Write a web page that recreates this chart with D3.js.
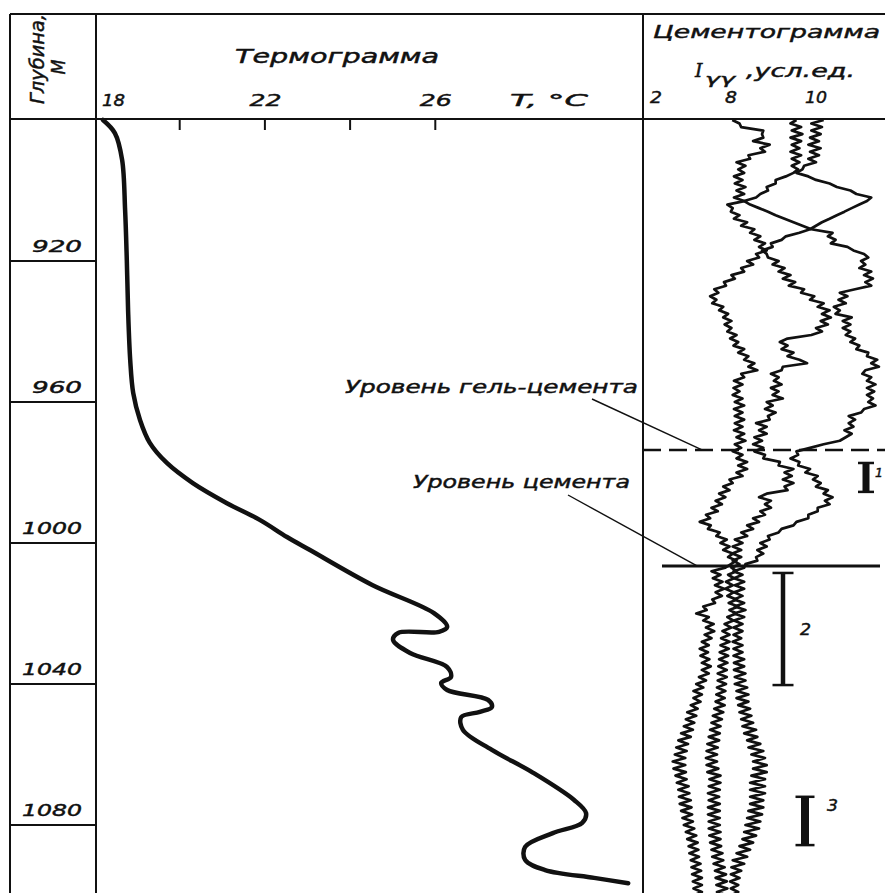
<!DOCTYPE html>
<html>
<head>
  <meta charset="utf-8">
  <script src="https://d3js.org/d3.v7.min.js"></script>
  <title>Термограмма и цементограмма</title>
</head>
<style>
html, body {
  margin: 0;
  background: white;
}
svg {
  display: block;
  background: white;
}
text {
  font-family: 'DejaVu Sans', sans-serif;
  font-style: italic;
  fill: #111;
  stroke: #111;
  stroke-width: 0.45px;
}
</style>
<body>
<script>
// Глубина, м — подписанные отметки
var depthTicks = [920, 960, 1000, 1040, 1080];

// Термограмма: глубина (м) и температура (°C) в узлах кривой
var tempTicks = [20, 22, 24, 26];
var tempLabels = [18, 22, 26];
var thermoDepth = [880, 883.7, 891.3, 905.5, 919.7, 933.9, 948.1, 957.4, 965.1, 971.6,
  977.3, 983.0, 988.7, 993.5, 998.3, 1002.0, 1011.9, 1019.9, 1023.8, 1025.2,
  1025.5, 1027.5, 1031.2, 1035.2, 1038.0, 1039.7, 1041.7, 1044.5, 1046.5, 1047.9,
  1049.4, 1053.0, 1058.7, 1065.2, 1072.9, 1076.6, 1079.4, 1082.3, 1086.2, 1089.9,
  1092.8, 1095.0, 1096.5];
var thermoTemp = [18.21, 18.49, 18.66, 18.73, 18.77, 18.80, 18.85, 18.92, 19.08, 19.31,
  19.71, 20.32, 21.12, 21.90, 22.53, 23.07, 24.53, 25.98, 26.29, 26.10,
  25.14, 25.02, 25.42, 26.29, 26.38, 26.15, 26.29, 27.25, 27.34, 27.06,
  26.62, 26.66, 27.34, 28.31, 29.27, 29.55, 29.46, 28.77, 28.12, 28.12,
  28.59, 29.74, 30.54];

// Цементограмма I_γγ, усл.ед. — отсчёты через 1 м начиная с 880 м
var cemTicks = [2, 8, 10];
var cemStartDepth = 880;
var cemCurve1 = [
  8.03, 8.20, 8.24, 8.76, 8.73, 8.76, 8.52, 8.91, 8.69, 8.80,
  8.41, 8.45, 8.13, 8.34, 8.17, 8.31, 8.07, 8.27, 8.09, 8.34,
  8.13, 8.31, 8.07, 8.31, 7.71, 8.04, 7.99, 8.20, 8.07, 8.38,
  8.24, 8.55, 8.45, 8.69, 8.55, 8.80, 8.66, 8.84, 8.59, 8.66,
  8.38, 8.52, 8.24, 8.31, 8.01, 8.09, 7.44, 7.60, 6.66, 6.99,
  6.33, 6.83, 6.50, 7.38, 7.05, 7.77, 7.38, 8.01, 7.49, 8.01,
  7.71, 8.13, 7.93, 8.17, 8.06, 8.31, 8.17, 8.41, 8.31, 8.55,
  8.41, 8.62, 8.24, 8.31, 8.07, 8.27, 8.06, 8.20, 8.04, 8.27,
  8.09, 8.31, 8.07, 8.27, 8.09, 8.31, 8.09, 8.27, 8.07, 8.31,
  8.13, 8.34, 8.09, 8.24, 8.04, 8.27, 8.13, 8.38, 8.17, 8.38,
  8.13, 8.27, 7.88, 8.04, 7.38, 7.88, 7.05, 7.55, 6.77, 7.27,
  6.44, 6.94, 6.00, 6.33, 5.50, 6.38, 6.16, 7.10, 6.83, 7.66,
  7.16, 7.88, 7.38, 8.04, 7.77, 8.13, 7.99, 7.55, 6.44, 7.16,
  6.55, 7.32, 6.72, 7.44, 6.77, 7.27, 6.50, 6.72, 5.78, 6.05,
  5.22, 6.22, 5.78, 6.61, 6.00, 6.66, 5.89, 6.44, 5.67, 6.22,
  5.50, 6.16, 5.56, 6.27, 5.67, 6.38, 5.67, 6.22, 5.44, 6.00,
  5.22, 5.78, 5.00, 5.67, 5.00, 5.56, 4.78, 5.33, 4.50, 5.22,
  4.39, 5.06, 4.23, 4.95, 4.01, 4.78, 3.79, 4.56, 3.62, 4.45,
  3.51, 4.34, 3.34, 4.34, 3.40, 4.39, 3.56, 4.45, 3.67, 4.61,
  3.79, 4.67, 3.84, 4.78, 3.90, 4.84, 4.01, 4.89, 4.12, 4.95,
  4.23, 5.06, 4.39, 5.22, 4.50, 5.33, 4.61, 5.39, 4.67, 5.44,
  4.78, 5.56, 4.84, 5.61, 4.89, 5.67, 4.95, 5.67, 5.00, 5.67,
  5.00];
var cemCurve2 = [
  9.54, 9.40, 9.65, 9.43, 9.68, 9.40, 9.65, 9.43, 9.61, 9.40,
  9.65, 9.43, 9.61, 9.43, 9.58, 9.47, 9.29, 9.05, 9.05, 8.84,
  8.87, 8.69, 8.59, 8.31, 8.45, 8.66, 8.87, 9.05, 9.26, 9.47,
  9.68, 9.89, 10.39, 10.28, 10.46, 10.35, 10.74, 10.88, 11.13, 11.23,
  11.06, 11.16, 11.02, 11.30, 11.13, 11.34, 11.16, 11.30, 10.92, 10.56,
  10.74, 10.53, 10.70, 10.42, 10.56, 10.46, 10.84, 10.63, 10.81, 10.63,
  10.81, 10.70, 10.92, 10.81, 11.02, 10.95, 11.23, 11.20, 11.44, 11.30,
  11.48, 11.16, 11.09, 11.30, 11.20, 11.40, 11.20, 11.37, 11.20, 11.34,
  11.23, 11.40, 11.13, 11.06, 10.77, 10.92, 10.77, 10.88, 10.67, 10.84,
  10.70, 10.56, 10.18, 9.86, 9.54, 9.58, 9.40, 9.61, 9.58, 9.86,
  9.75, 10.04, 9.93, 10.11, 10.00, 10.28, 10.18, 10.39, 10.21, 10.32,
  10.04, 10.04, 9.82, 9.82, 9.54, 9.47, 9.19, 9.12, 8.87, 8.91,
  8.69, 8.84, 8.62, 8.76, 8.59, 8.62, 8.34, 8.31, 8.06, 8.27,
  8.07, 8.31, 8.09, 8.31, 8.07, 8.27, 8.07, 8.31, 8.09, 8.34,
  8.07, 8.31, 8.07, 8.27, 8.06, 8.27, 8.06, 8.24, 8.04, 8.27,
  8.06, 8.27, 8.06, 8.31, 8.07, 8.31, 8.07, 8.34, 8.09, 8.34,
  8.09, 8.38, 8.13, 8.41, 8.13, 8.41, 8.17, 8.45, 8.20, 8.48,
  8.24, 8.52, 8.27, 8.59, 8.31, 8.62, 8.38, 8.69, 8.41, 8.76,
  8.48, 8.80, 8.52, 8.84, 8.52, 8.84, 8.48, 8.80, 8.45, 8.80,
  8.45, 8.80, 8.45, 8.76, 8.45, 8.76, 8.41, 8.73, 8.38, 8.69,
  8.34, 8.66, 8.31, 8.59, 8.27, 8.52, 8.20, 8.45, 8.13, 8.38,
  8.04, 8.31, 8.01, 8.24, 7.99, 8.20, 7.93, 8.17, 7.99, 8.17,
  7.99];
var cemCurve3 = [
  10.18, 9.89, 10.14, 9.89, 10.11, 9.86, 10.07, 9.82, 10.11, 9.86,
  10.07, 9.82, 10.00, 9.72, 9.68, 9.54, 9.82, 10.00, 10.32, 10.49,
  10.81, 10.95, 11.30, 11.20, 11.02, 10.84, 10.67, 10.49, 10.32, 10.14,
  10.00, 9.86, 9.61, 9.29, 9.19, 8.94, 8.98, 8.73, 8.84, 8.87,
  9.12, 8.98, 9.26, 9.12, 9.40, 9.22, 9.51, 9.36, 9.72, 9.65,
  9.96, 9.86, 10.18, 10.04, 10.32, 10.14, 10.35, 10.11, 10.28, 10.00,
  10.14, 9.89, 9.33, 9.15, 9.33, 9.19, 9.47, 9.33, 9.61, 9.79,
  9.22, 9.19, 8.94, 9.12, 9.01, 9.19, 8.94, 9.12, 8.98, 9.22,
  8.84, 8.98, 8.80, 9.05, 8.87, 8.91, 8.59, 8.84, 8.66, 8.84,
  8.55, 8.73, 8.52, 8.76, 8.55, 8.80, 8.76, 9.15, 9.12, 9.47,
  9.26, 9.43, 9.22, 9.47, 9.26, 9.33, 8.84, 8.66, 8.94, 8.80,
  8.94, 8.69, 8.80, 8.52, 8.66, 8.38, 8.52, 8.24, 8.38, 8.09,
  8.27, 8.04, 8.24, 8.03, 8.24, 8.04, 8.20, 8.01, 8.13, 7.77,
  8.07, 7.60, 8.04, 7.55, 8.06, 7.71, 8.13, 7.82, 8.17, 7.88,
  8.13, 7.71, 8.06, 7.49, 8.01, 7.32, 7.88, 7.21, 7.88, 7.16,
  7.82, 7.10, 7.77, 7.05, 7.71, 6.99, 7.66, 6.94, 7.66, 6.94,
  7.60, 6.88, 7.55, 6.83, 7.49, 6.77, 7.49, 6.66, 7.38, 6.55,
  7.27, 6.44, 7.16, 6.33, 7.10, 6.22, 7.05, 6.11, 6.94, 6.05,
  6.88, 6.00, 6.88, 6.05, 6.99, 6.11, 7.16, 6.27, 7.16, 6.22,
  7.10, 6.16, 7.05, 6.22, 7.10, 6.16, 7.10, 6.16, 7.10, 6.22,
  7.10, 6.22, 7.16, 6.27, 7.16, 6.33, 7.21, 6.44, 7.32, 6.50,
  7.38, 6.61, 7.49, 6.72, 7.60, 6.77, 7.66, 6.83, 7.71, 6.88,
  7.66];

// Уровни гель-цемента и цемента, м
var levelNames = ["Уровень гель-цемента", "Уровень цемента"];
var levelDepths = [973.6, 1006.5];

// Интервалы 1, 2, 3 (кровля и подошва, м)
var zoneNames = ["1", "2", "3"];
var zoneTop = [977.3, 1008.5, 1072.0];
var zoneBottom = [985.5, 1040.3, 1085.7];

// ---- разметка ----
var width = 885, height = 893;
var frameLeft = 10, depthRight = 96, cemLeft = 643, frameTop = 14, headBottom = 119;
var ink = "#111";

var y = d3.scaleLinear().domain([880, 1100]).range([120, 895.5]);
var xT = d3.scaleLinear().domain([18, 30]).range([94, 605.2]);
var xC = d3.scaleLinear().domain([2, 8, 10]).range([656, 731, 816]);

var svg = d3.select("body").append("svg")
  .attr("width", width)
  .attr("height", height);

// подпись с растяжкой под ширину из оригинала
function label(g, txt, x, yy, size, len, anchor) {
  return g.append("text")
    .attr("x", x).attr("y", yy)
    .attr("font-size", size)
    .attr("textLength", len)
    .attr("lengthAdjust", "spacingAndGlyphs")
    .attr("text-anchor", anchor || "start")
    .text(txt);
}

// рамка таблицы
var frame = svg.append("g").attr("stroke", ink).attr("stroke-width", 2);
[[frameLeft, frameTop, width, frameTop],
 [frameLeft, headBottom, width, headBottom],
 [frameLeft, frameTop, frameLeft, height],
 [depthRight, frameTop, depthRight, height],
 [cemLeft, frameTop, cemLeft, height]].forEach(function (l) {
  frame.append("line").attr("x1", l[0]).attr("y1", l[1]).attr("x2", l[2]).attr("y2", l[3]);
});

// колонка глубин
var depthG = svg.append("g");
depthG.selectAll("line").data(depthTicks).enter().append("line")
  .attr("x1", frameLeft).attr("x2", depthRight)
  .attr("y1", function (d) { return y(d); })
  .attr("y2", function (d) { return y(d); })
  .attr("stroke", ink).attr("stroke-width", 1.8);
depthTicks.forEach(function (d) {
  label(depthG, d, 82, y(d) - 9, 16, d >= 1000 ? 60 : 50, "end");
});

label(svg, "Глубина,", 0, 0, 20, 90, "middle")
  .attr("transform", "translate(44,59) rotate(-90)");
label(svg, "М", 0, 0, 20, 15, "middle")
  .attr("transform", "translate(65,67) rotate(-90)");

// термограмма: шкала
label(svg, "Термограмма", 235, 63, 19, 204);
var tAxis = d3.axisBottom(xT).tickValues(tempTicks).tickSize(11).tickFormat("");
svg.append("g")
  .attr("transform", "translate(0," + headBottom + ")")
  .attr("color", ink)
  .call(tAxis)
  .call(function (g) { g.select(".domain").remove(); })
  .selectAll("line").attr("stroke-width", 2);
tempLabels.forEach(function (t, i) {
  if (i === 0) label(svg, t, xT(t) + 8, 106, 16, 23);
  else label(svg, t, xT(t) + 1, 106, 16, 32, "middle");
});
label(svg, "T, °C", 510, 106, 16, 78);

// термограмма: кривая
var thermo = thermoDepth.map(function (d, i) { return { d: d, t: thermoTemp[i] }; });
var thermoLine = d3.line()
  .x(function (p) { return xT(p.t); })
  .y(function (p) { return y(p.d); })
  .curve(d3.curveCatmullRom.alpha(0.5));
svg.append("path")
  .datum(thermo)
  .attr("d", thermoLine)
  .attr("fill", "none")
  .attr("stroke", ink)
  .attr("stroke-width", 4.5)
  .attr("stroke-linecap", "round");

// цементограмма: шапка
label(svg, "Цементограмма", 653, 38, 18, 227);
svg.append("text").attr("x", 695).attr("y", 77).attr("font-size", 19)
  .style("font-family", "'DejaVu Serif', serif").text("I");
label(svg, "γγ", 705, 84, 14, 30);
label(svg, ",усл.ед.", 746, 77, 17, 109);
cemTicks.forEach(function (v) {
  label(svg, v, xC(v), 103, 16, v >= 10 ? 22 : 12, "middle");
});

// цементограмма: кривые
var cemLine = d3.line()
  .x(function (v) { return xC(v); })
  .y(function (v, i) { return y(cemStartDepth + i); });
svg.append("g").selectAll("path")
  .data([cemCurve1, cemCurve2, cemCurve3])
  .enter().append("path")
  .attr("d", cemLine)
  .attr("fill", "none")
  .attr("stroke", ink)
  .attr("stroke-width", 2.7)
  .attr("stroke-linejoin", "round");

// уровни: линии, выноски, подписи
var gel = y(levelDepths[0]), cem = y(levelDepths[1]);
svg.append("line").attr("x1", cemLeft).attr("x2", width).attr("y1", gel).attr("y2", gel)
  .attr("stroke", ink).attr("stroke-width", 2.4).attr("stroke-dasharray", "18,8");
svg.append("line").attr("x1", 662).attr("x2", 880).attr("y1", cem).attr("y2", cem)
  .attr("stroke", ink).attr("stroke-width", 3);
svg.append("line").attr("x1", 592).attr("y1", 399).attr("x2", 702).attr("y2", gel)
  .attr("stroke", ink).attr("stroke-width", 1.4);
svg.append("line").attr("x1", 568).attr("y1", 495).attr("x2", 697).attr("y2", cem)
  .attr("stroke", ink).attr("stroke-width", 1.4);
label(svg, levelNames[0], 345, 393, 18, 293);
label(svg, levelNames[1], 413, 488, 18, 217);

// интервалы
var zoneX = [866, 783, 805], zoneStem = [7, 4.5, 8], zoneSerif = [8, 10.5, 9.5];
var zoneLabelX = [875, 800, 827];
zoneNames.forEach(function (n, i) {
  var g = svg.append("g").attr("stroke", ink);
  var top = y(zoneTop[i]), bot = y(zoneBottom[i]);
  g.append("line").attr("x1", zoneX[i]).attr("x2", zoneX[i]).attr("y1", top).attr("y2", bot)
    .attr("stroke-width", zoneStem[i]);
  [top, bot].forEach(function (yy) {
    g.append("line").attr("x1", zoneX[i] - zoneSerif[i]).attr("x2", zoneX[i] + zoneSerif[i])
      .attr("y1", yy).attr("y2", yy).attr("stroke-width", 2.5);
  });
  var ly = i === 1 ? (top + bot) / 2 + 6 : top + 14;
  label(svg, n, zoneLabelX[i], ly, i === 0 ? 13 : 15, i === 0 ? 8 : 11);
});
</script>
</body>
</html>
